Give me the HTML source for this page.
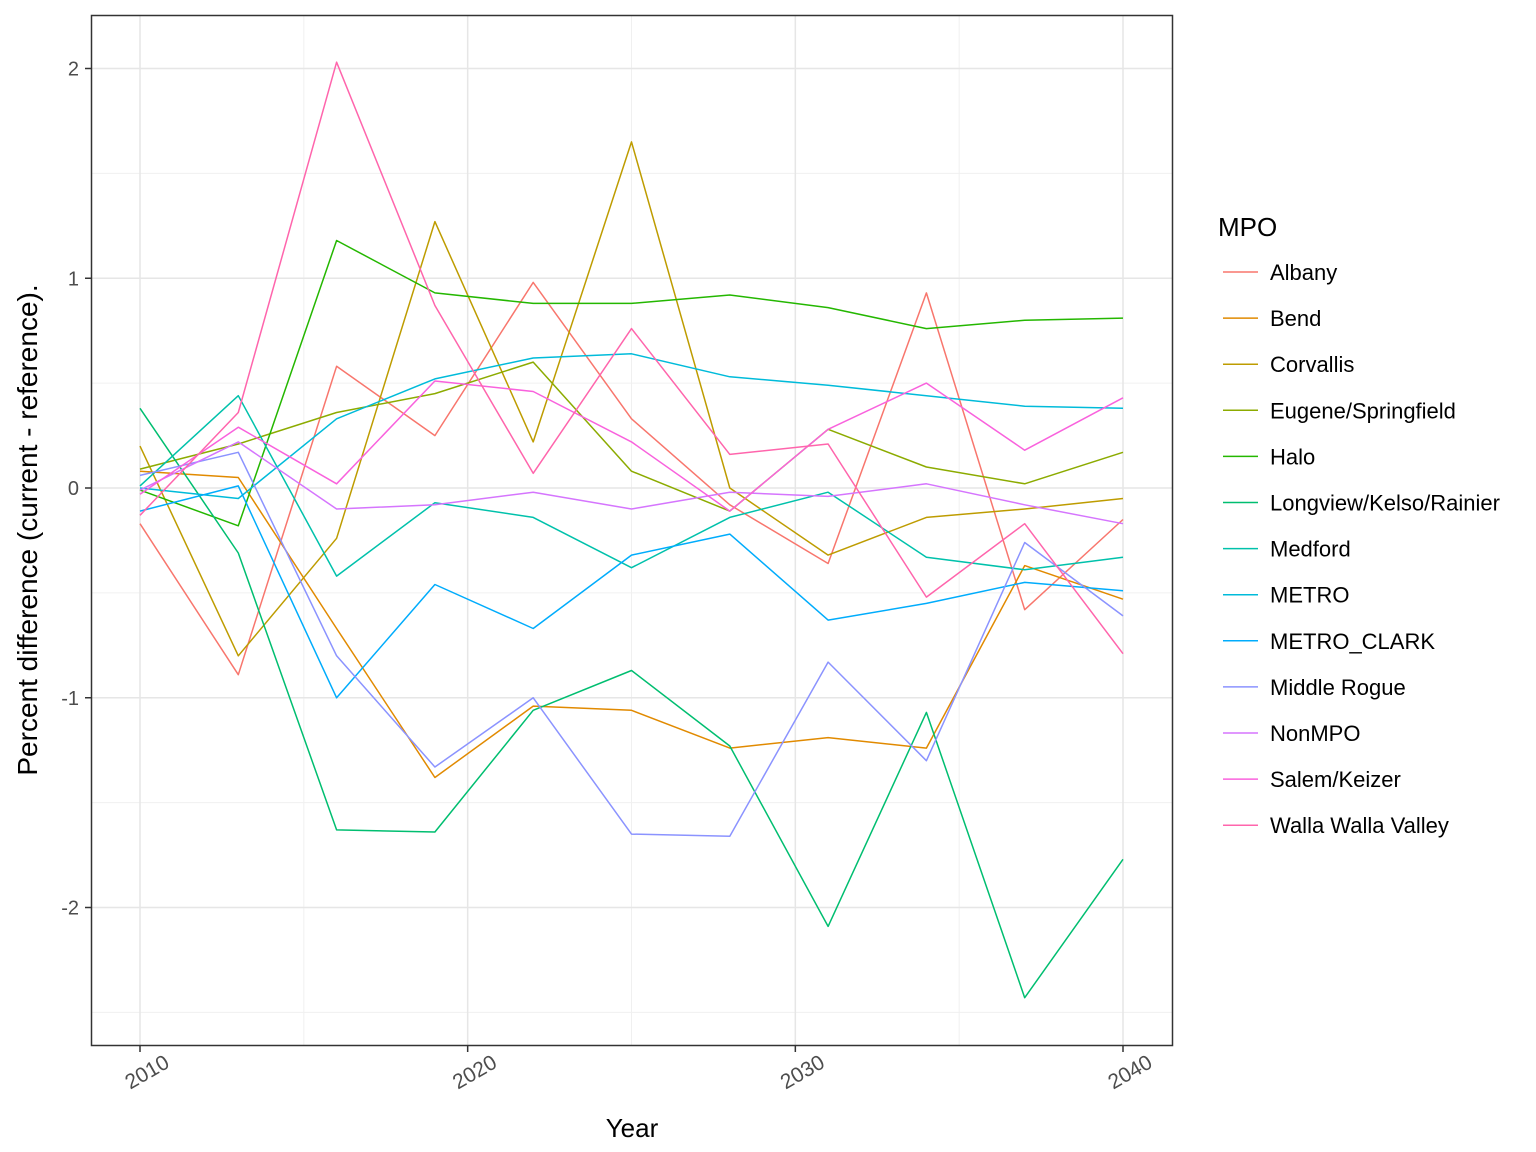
<!DOCTYPE html>
<html><head><meta charset="utf-8"><style>
body{margin:0;background:#fff}
svg{display:block;font-family:"Liberation Sans",Arial,sans-serif}
</style></head><body>
<svg id="chart" width="1536" height="1152" xmlns="http://www.w3.org/2000/svg">
<rect x="0" y="0" width="1536" height="1152" fill="#fff"/>
<g id="grid"></g>
<g id="series"></g>
<rect x="91.5" y="15.5" width="1081" height="1030" fill="none" stroke="#333" stroke-width="1.5"/>
<g id="axes"></g>
<text x="632" y="1137" font-size="26" text-anchor="middle" fill="#000">Year</text>
<text transform="translate(37,530) rotate(-90)" font-size="28" text-anchor="middle" fill="#000">Percent difference (current - reference).</text>
<g id="legend">
<text x="1218" y="236" font-size="26" fill="#000">MPO</text>
</g>
</svg>
<script>
const years = [2010,2013,2016,2019,2022,2025,2028,2031,2034,2037,2040];
const seriesNames = ["Albany","Bend","Corvallis","Eugene/Springfield","Halo","Longview/Kelso/Rainier","Medford","METRO","METRO_CLARK","Middle Rogue","NonMPO","Salem/Keizer","Walla Walla Valley"];
const seriesColors = ["#F8766D","#E18A00","#BE9C00","#8CAB00","#24B700","#00BE70","#00C1AB","#00BBDA","#00ACFC","#8B93FF","#D575FE","#F962DD","#FF65AC"];
const albany = [-0.17,-0.89,0.58,0.25,0.98,0.33,-0.08,-0.36,0.93,-0.58,-0.15];
const bend = [0.08,0.05,-0.67,-1.38,-1.04,-1.06,-1.24,-1.19,-1.24,-0.37,-0.53];
const corvallis = [0.20,-0.80,-0.24,1.27,0.22,1.65,0.00,-0.32,-0.14,-0.10,-0.05];
const eugene = [0.09,0.21,0.36,0.45,0.60,0.08,-0.11,0.28,0.10,0.02,0.17];
const halo = [-0.01,-0.18,1.18,0.93,0.88,0.88,0.92,0.86,0.76,0.80,0.81];
const longview = [0.38,-0.31,-1.63,-1.64,-1.06,-0.87,-1.23,-2.09,-1.07,-2.43,-1.77];
const medford = [0.01,0.44,-0.42,-0.07,-0.14,-0.38,-0.14,-0.02,-0.33,-0.39,-0.33];
const metro = [0.00,-0.05,0.33,0.52,0.62,0.64,0.53,0.49,0.44,0.39,0.38];
const metroClark = [-0.11,0.01,-1.00,-0.46,-0.67,-0.32,-0.22,-0.63,-0.55,-0.45,-0.49];
const middleRogue = [0.06,0.17,-0.80,-1.33,-1.00,-1.65,-1.66,-0.83,-1.30,-0.26,-0.61];
const nonMPO = [-0.01,0.22,-0.10,-0.08,-0.02,-0.10,-0.02,-0.04,0.02,-0.08,-0.17];
const salem = [-0.03,0.29,0.02,0.51,0.46,0.22,-0.11,0.28,0.50,0.18,0.43];
const wallaWalla = [-0.13,0.36,2.03,0.87,0.07,0.76,0.16,0.21,-0.52,-0.17,-0.79];
const seriesValues = [albany,bend,corvallis,eugene,halo,longview,medford,metro,metroClark,middleRogue,nonMPO,salem,wallaWalla];
const yTicks = [-2,-1,0,1,2];
const yMinor = [-2.5,-1.5,-0.5,0.5,1.5];
const xTicks = [2010,2020,2030,2040];
const xMinor = [2015,2025,2035];

const NS="http://www.w3.org/2000/svg";
const X0=91,X1=1173,Y0=15,Y1=1046;
function xs(v){return 140+(v-2010)*(1123-140)/30;}
function ys(v){return 488-v*209.75;}
function mk(tag,attrs,parent){const e=document.createElementNS(NS,tag);for(const k in attrs)e.setAttribute(k,attrs[k]);parent.appendChild(e);return e;}
const grid=document.getElementById('grid'),axes=document.getElementById('axes'),ser=document.getElementById('series'),leg=document.getElementById('legend');
yMinor.forEach(v=>{const l=mk('line',{x1:X0,x2:X1,y1:ys(v),y2:ys(v),stroke:'#f0f0f0','stroke-width':1},grid);

});
xMinor.forEach(v=>{const l=mk('line',{x1:xs(v),x2:xs(v),y1:Y0,y2:Y1,stroke:'#f0f0f0','stroke-width':1},grid);

});
yTicks.forEach(v=>{const l=mk('line',{x1:X0,x2:X1,y1:ys(v),y2:ys(v),stroke:'#e6e6e6','stroke-width':1.5},grid);


const t=mk('line',{x1:X0-6,x2:X0,y1:ys(v),y2:ys(v),stroke:'#333','stroke-width':1.5},axes);


const tx=mk('text',{x:X0-12,y:ys(v)+7,'font-size':20,'text-anchor':'end',fill:'#4d4d4d'},axes);
tx.textContent=v;

});
xTicks.forEach(v=>{const l=mk('line',{x1:xs(v),x2:xs(v),y1:Y0,y2:Y1,stroke:'#e6e6e6','stroke-width':1.5},grid);


const t=mk('line',{x1:xs(v),x2:xs(v),y1:Y1,y2:Y1+6,stroke:'#333','stroke-width':1.5},axes);


const cx=xs(v)+7,cy=1072;
const tx=mk('text',{x:cx,y:cy+7,'font-size':21,'text-anchor':'middle',fill:'#4d4d4d',transform:`rotate(-30 ${cx} ${cy})`},axes);
tx.textContent=v;

});
seriesValues.forEach((vals,i)=>{const pts=vals.map((v,j)=>xs(years[j]).toFixed(1)+','+ys(v).toFixed(1)).join(' ');
const p=mk('polyline',{points:pts,fill:'none',stroke:seriesColors[i],'stroke-width':1.5,'stroke-linejoin':'round'},ser);


const y=272+i*46.1;
const k=mk('line',{x1:1223,x2:1258,y1:y,y2:y,stroke:seriesColors[i],'stroke-width':1.5},leg);


const t=mk('text',{x:1270,y:y+8,'font-size':22,fill:'#000'},leg);
t.textContent=seriesNames[i];

});
</script>
</body></html>
